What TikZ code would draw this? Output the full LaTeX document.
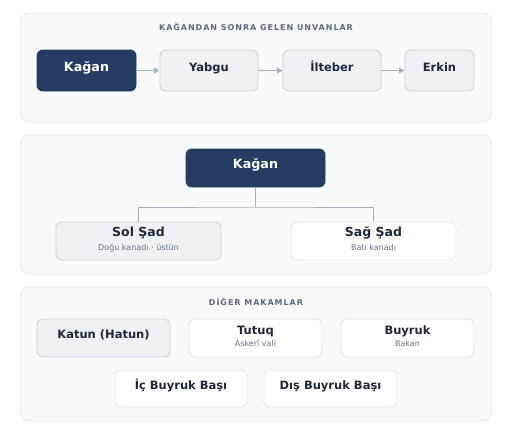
\documentclass[tikz,border=0pt]{standalone}
\usepackage{fontspec}
\setmainfont{DejaVu Sans}
\newfontfamily\spacedbf{DejaVu Sans Bold}[LetterSpace=12]
\usetikzlibrary{arrows.meta}
\definecolor{panelfill}{HTML}{F8FAFC}
\definecolor{panelline}{HTML}{E2E8F0}
\definecolor{navy}{HTML}{253B62}
\definecolor{lightfill}{HTML}{EEF2F7}
\definecolor{lightline}{HTML}{CBD5E1}
\definecolor{ink}{HTML}{1E293B}
\definecolor{subink}{HTML}{64748B}
\definecolor{secink}{HTML}{5B6B82}
\definecolor{connline}{HTML}{A3B0C2}
\begin{document}
\begin{tikzpicture}[x=1pt,y=-1pt,
  panel/.style={draw=panelline, fill=panelfill, rounded corners=8pt, line width=0.8pt},
  box/.style={rounded corners=6pt, line width=0.9pt, inner sep=0pt},
  darkbox/.style={box, fill=navy, draw=navy},
  lightbox/.style={box, fill=lightfill, draw=lightline},
  whitebox/.style={box, fill=white, draw=panelline},
  lbl/.style={anchor=base, inner sep=0pt, text=ink, font=\bfseries\fontsize{11.5}{14}\selectfont},
  biglbl/.style={lbl, text=white, font=\bfseries\fontsize{12.7}{15}\selectfont},
  shadlbl/.style={lbl, font=\bfseries\fontsize{12.5}{15}\selectfont},
  sublbl/.style={anchor=base, inner sep=0pt, text=subink, font=\fontsize{8}{10}\selectfont},
  sect/.style={anchor=base, inner sep=0pt, text=secink, font=\spacedbf\fontsize{8}{10}\selectfont},
  conn/.style={draw=connline, line width=1pt},
  arr/.style={conn, -{Triangle[length=5.5pt,width=5.5pt]}}
]
\useasboundingbox[fill=white] (0,0) rectangle (512,437);

% Panel 1
\draw[panel] (21,13) rectangle (491,122);
\node[sect] (t1) at (256,30.5) {KAĞANDAN SONRA GELEN UNVANLAR};
\node[darkbox, minimum width=99pt, minimum height=41pt] (k1) at (86.5,70.5) {};
\node[lightbox, minimum width=98pt, minimum height=41pt] (yabgu) at (209,70.5) {};
\node[lightbox, minimum width=98pt, minimum height=41pt] (ilteber) at (332,70.5) {};
\node[lightbox, minimum width=69pt, minimum height=41pt] (erkin) at (439.5,70.5) {};
\node[biglbl] (k1t) at (86.5,71) {Kağan};
\node[lbl] (yabgut) at (209,71) {Yabgu};
\node[lbl] (iltebert) at (332,71) {İlteber};
\node[lbl] (erkint) at (439.5,71) {Erkin};
\draw[arr] (k1.east) -- (yabgu.west);
\draw[arr] (yabgu.east) -- (ilteber.west);
\draw[arr] (ilteber.east) -- (erkin.west);

% Panel 2
\draw[panel] (21,135) rectangle (491,274);
\node[darkbox, minimum width=139pt, minimum height=38pt] (k2) at (255.5,168) {};
\node[lightbox, minimum width=165pt, minimum height=38pt] (sol) at (138.5,241) {};
\node[whitebox, minimum width=165pt, minimum height=38pt] (sag) at (373.5,241) {};
\node[biglbl] (k2t) at (255.5,168.5) {Kağan};
\node[shadlbl] (solt) at (138.5,236.7) {Sol Şad};
\node[sublbl] (sols) at (138.5,250) {Doğu kanadı · üstün};
\node[shadlbl] (sagt) at (373.5,236.7) {Sağ Şad};
\node[sublbl] (sags) at (373.5,250) {Batı kanadı};
\coordinate (mid) at (255.5,207);
\draw[conn] (k2.south) -- (mid);
\draw[conn] (sol.north) |- (mid) -| (sag.north);

% Panel 3
\draw[panel] (21,287) rectangle (491,421);
\node[sect] (t3) at (256,305.5) {DİĞER MAKAMLAR};
\node[lightbox, minimum width=133pt, minimum height=38pt] (katun) at (103.5,338) {};
\node[whitebox, minimum width=133pt, minimum height=38pt] (tutuq) at (255.5,338) {};
\node[whitebox, minimum width=133pt, minimum height=38pt] (buyruk) at (407.5,338) {};
\node[whitebox, minimum width=132pt, minimum height=37pt] (ic) at (181,388.5) {};
\node[whitebox, minimum width=133pt, minimum height=37pt] (dis) at (330.5,388.5) {};
\node[lbl] (katunt) at (103.5,338.5) {Katun (Hatun)};
\node[lbl] (tutuqt) at (255.5,334) {Tutuq};
\node[sublbl] (tutuqs) at (255.5,346.7) {Askerî vali};
\node[lbl] (buyrukt) at (407.5,334) {Buyruk};
\node[sublbl] (buyruks) at (407.5,346.7) {Bakan};
\node[lbl] (ict) at (181,389) {İç Buyruk Başı};
\node[lbl] (dist) at (330.5,389) {Dış Buyruk Başı};
\end{tikzpicture}
\end{document}
